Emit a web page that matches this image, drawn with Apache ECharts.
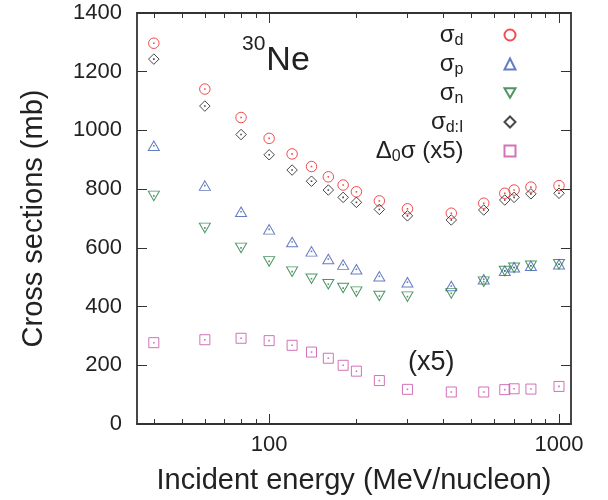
<!DOCTYPE html>
<html>
<head>
<meta charset="utf-8">
<script src="https://cdn.jsdelivr.net/npm/echarts@6/dist/echarts.min.js"></script>
<style>
  html, body { margin: 0; padding: 0; background: #fff; }
  #chart { width: 608px; height: 500px; }
</style>
</head>
<body>
<div id="chart"></div>
<script>
// incident energies (MeV/nucleon)
const energy = [40, 60, 80, 100, 120, 140, 160, 180, 200, 240, 300, 425, 550, 650, 700, 800, 1000]
// cross sections (mb)
const sigD = [1297, 1141, 1044, 973, 920, 877, 842, 814, 791, 760, 733, 718, 752, 786, 797, 807, 812]
const sigP = [948, 812, 723, 663, 620, 588, 562, 543, 527, 503, 483, 470, 493, 522, 534, 539, 544]
const sigN = [777, 668, 600, 554, 519, 495, 476, 463, 451, 436, 434, 445, 485, 521, 532, 539, 544]
const sigDI = [1243, 1083, 986, 917, 865, 827, 797, 772, 755, 731, 709, 695, 729, 763, 772, 784, 786]
const delta0x5 = [277, 287, 292, 284, 268, 245, 224, 200, 180, 148, 118, 109, 109, 117, 120, 119, 128]

const xMajor = [100, 1000]
const xMinor = [40, 50, 60, 70, 80, 90, 200, 300, 400, 500, 600, 700, 800, 900]

const FONT = '"Liberation Sans", Arial, Helvetica, sans-serif'
const AXIS_COLOR = '#333'
const TEXT_COLOR = '#222'

const TRI_DOWN = 'path://M0,0 L100,0 L50,86.6 Z'

const pairs = (ys) => energy.map((e, i) => [e, ys[i]])

const legendText = {
  'σd': '{m|σ}{s|d}',
  'σp': '{m|σ}{s|p}',
  'σn': '{m|σ}{s|n}',
  'σd:I': '{m|σ}{s|d:I}',
  'Δ0σ (x5)': '{m|Δ}{s|0}{m|σ (x5)}'
}

const groups = [
  { name: 'σd', data: sigD, color: '#ec2227', symbol: 'circle', size: 10.5 },
  { name: 'σp', data: sigP, color: '#3d5bb3', symbol: 'triangle', size: [11, 9.5] },
  { name: 'σn', data: sigN, color: '#217a3c', symbol: TRI_DOWN, size: [11, 9.5] },
  { name: 'σd:I', data: sigDI, color: '#1a1a1a', symbol: 'diamond', size: 10.5 },
  { name: 'Δ0σ (x5)', data: delta0x5, color: '#c54fa9', symbol: 'rect', size: 10 }
]

function xAxisBase(position, ticks, len, showLine) {
  return {
    type: 'log',
    logBase: 10,
    min: 35,
    max: 1100,
    position: position,
    axisLine: { show: showLine, onZero: false, lineStyle: { color: AXIS_COLOR, width: 1.8 } },
    axisTick: { show: true, inside: true, length: len, customValues: ticks, lineStyle: { color: AXIS_COLOR, width: 1 } },
    axisLabel: { show: false },
    splitLine: { show: false },
    minorTick: { show: false }
  }
}

function yAxisBase(position, showLabel) {
  return {
    type: 'value',
    min: 0,
    max: 1400,
    interval: 200,
    position: position,
    axisLine: { show: true, onZero: false, lineStyle: { color: AXIS_COLOR, width: 1.8 } },
    axisTick: { show: true, inside: true, length: 10, lineStyle: { color: AXIS_COLOR, width: 1 } },
    axisLabel: {
      show: showLabel,
      fontSize: 22,
      fontFamily: FONT,
      color: TEXT_COLOR,
      margin: 15,
      formatter: (v) => String(v)
    },
    splitLine: { show: false }
  }
}

const xMain = xAxisBase('bottom', xMajor, 10, true)
xMain.axisLabel = {
  show: true,
  customValues: xMajor,
  fontSize: 22,
  fontFamily: FONT,
  color: TEXT_COLOR,
  margin: 10,
  formatter: (v) => (xMajor.indexOf(Math.round(v)) >= 0 ? String(Math.round(v)) : '')
}
xMain.name = 'Incident energy (MeV/nucleon)'
xMain.nameLocation = 'middle'
xMain.nameGap = 42
xMain.nameTextStyle = { fontSize: 29, fontFamily: FONT, color: TEXT_COLOR }

const yMain = yAxisBase('left', true)
yMain.name = 'Cross sections (mb)'
yMain.nameLocation = 'middle'
yMain.nameGap = 89
yMain.nameTextStyle = { fontSize: 29, fontFamily: FONT, color: TEXT_COLOR }

const series = []
groups.forEach((g) => {
  series.push({
    name: g.name,
    type: 'scatter',
    data: pairs(g.data),
    symbol: g.symbol,
    symbolSize: g.size,
    itemStyle: { color: 'rgba(0,0,0,0)', borderColor: g.color, borderWidth: 1 },
    emphasis: { disabled: true },
    z: 3
  })
})
// small dots in the middle of each marker
groups.forEach((g) => {
  series.push({
    name: g.name + ' dot',
    type: 'scatter',
    data: pairs(g.data),
    symbol: 'rect',
    symbolSize: 1.6,
    itemStyle: { color: g.color },
    silent: true,
    z: 4
  })
})

const chart = echarts.init(document.getElementById('chart'), null, { renderer: 'canvas' })

const option = {
  animation: false,
  backgroundColor: '#fff',
  textStyle: { fontFamily: FONT },
  grid: { left: 137, right: 37, top: 13, bottom: 76 },
  title: {
    left: 242,
    top: 34,
    padding: 0,
    text: '{a|30}{b|Ne}',
    textStyle: {
      fontWeight: 'normal',
      rich: {
        a: { fontSize: 21, lineHeight: 21, verticalAlign: 'top', fontWeight: 'normal', fontFamily: FONT, color: TEXT_COLOR },
        b: { fontSize: 34, lineHeight: 44, verticalAlign: 'bottom', fontWeight: 'normal', fontFamily: FONT, color: TEXT_COLOR, padding: [0, 0, 0, 1] }
      }
    }
  },
  legend: {
    orient: 'vertical',
    align: 'right',
    right: 91.5,
    top: 23,
    padding: 0,
    itemGap: 3,
    itemWidth: 11,
    itemHeight: 11,
    data: groups.map((g) => g.name),
    formatter: (name) => legendText[name],
    textStyle: {
      padding: [0, 36, 0, 0],
      rich: {
        m: { fontSize: 24, lineHeight: 28, fontFamily: FONT, color: TEXT_COLOR },
        s: { fontSize: 16, lineHeight: 14, verticalAlign: 'bottom', fontFamily: FONT, color: TEXT_COLOR }
      }
    }
  },
  graphic: [
    {
      type: 'text',
      left: 408,
      top: 349,
      style: { text: '(x5)', fontSize: 27, fontFamily: FONT, fill: TEXT_COLOR }
    }
  ],
  xAxis: [
    xMain,
    xAxisBase('bottom', xMinor, 5, false),
    xAxisBase('top', xMajor, 10, true),
    xAxisBase('top', xMinor, 5, false)
  ],
  yAxis: [yMain, yAxisBase('right', false)],
  series: series
}

chart.setOption(option)
</script>
</body>
</html>
